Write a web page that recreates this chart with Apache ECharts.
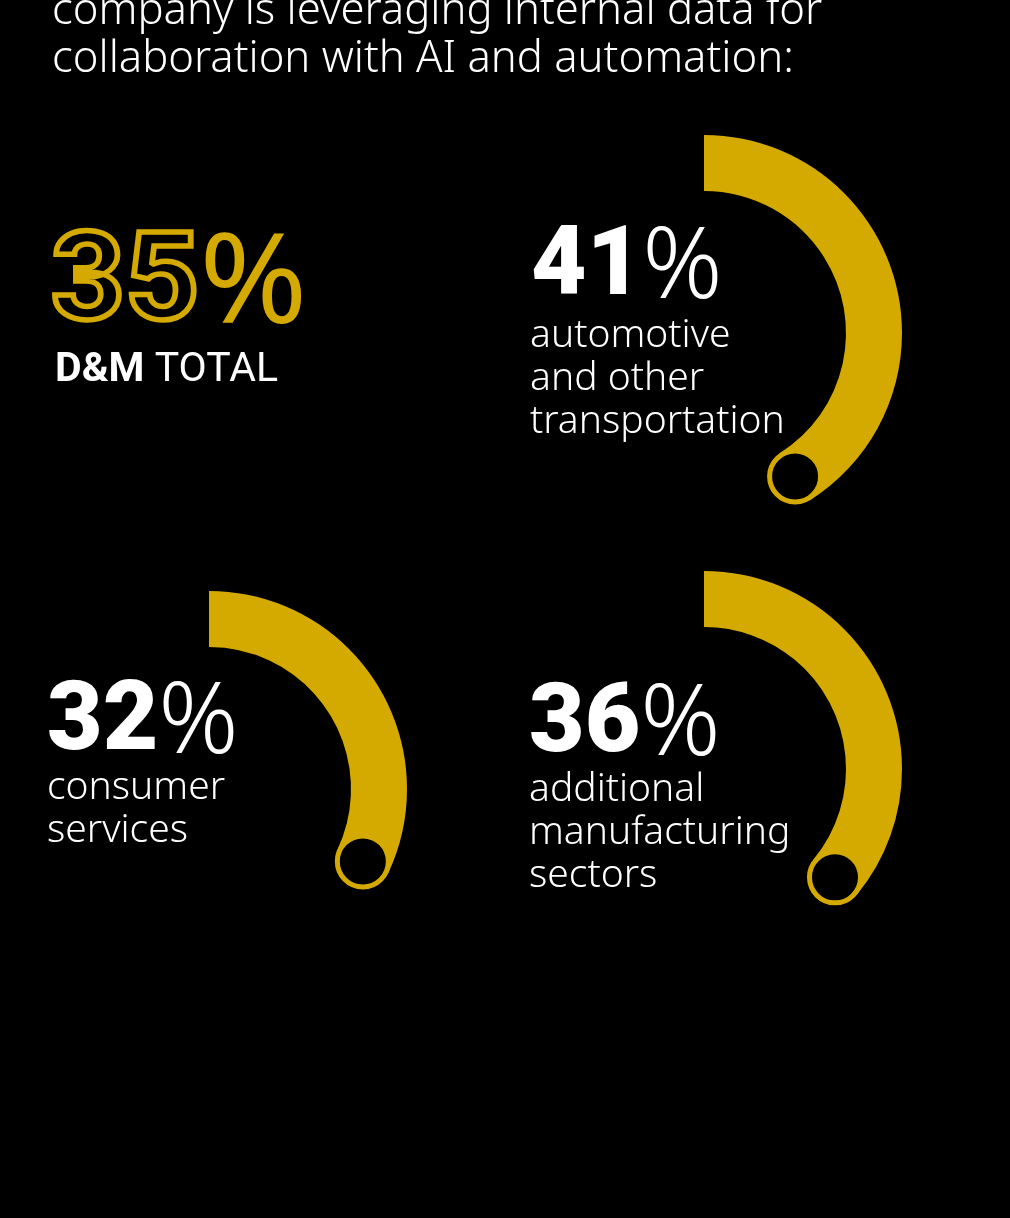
<!DOCTYPE html>
<html>
<head>
<meta charset="utf-8">
<title>AI and automation: internal data collaboration</title>
<script src="https://cdn.jsdelivr.net/npm/echarts@6/dist/echarts.min.js"></script>
<style>
  html, body { margin: 0; padding: 0; background: #000; }
  #chart { width: 1010px; height: 1218px; }
</style>
</head>
<body>
<div id="chart"></div>
<script>
// Share of companies leveraging internal data for collaboration with AI and automation
const headline = ['company is leveraging internal data for', 'collaboration with AI and automation:'];
const totalShare = 35;
const totalLabel = ['D&M', 'TOTAL'];
const segments = [
  ['automotive', 'and other', 'transportation'],
  ['consumer', 'services'],
  ['additional', 'manufacturing', 'sectors']
];
const shares = [41, 32, 36];

const GOLD = '#D5AA00';
const WHITE = '#FFFFFF';
const BODY_FONT = '"Noto Sans", "Open Sans", sans-serif';
const NUM_FONT = 'Roboto, "Noto Sans", sans-serif';
const PCT_FONT = '"Noto Sans", Roboto, sans-serif';

// dial placement: ring centre, number block and description block (px)
const dialLayout = [
  { center: [704, 333], num: [531, 220], desc: [530, 314] },
  { center: [209, 789], num: [47, 675], desc: [47, 766] },
  { center: [704, 769], num: [529, 677], desc: [529, 768] }
];
const RING = [142, 198];

const polar = dialLayout.map(d => ({ center: d.center, radius: RING }));
const angleAxis = dialLayout.map((d, i) => ({
  polarIndex: i, type: 'value', min: 0, max: 100, startAngle: 90, clockwise: true, show: false
}));
const radiusAxis = dialLayout.map((d, i) => ({
  polarIndex: i, type: 'category', data: ['share'], show: false
}));

const series = [];
shares.forEach((v, i) => {
  // the arc itself
  series.push({
    type: 'bar',
    coordinateSystem: 'polar',
    polarIndex: i,
    data: [v],
    barCategoryGap: '0%',
    itemStyle: { color: GOLD, opacity: 1 },
    silent: true,
    z: 2
  });
  // hollow ring closing the arc at its value
  series.push({
    type: 'scatter',
    coordinateSystem: 'polar',
    polarIndex: i,
    data: [[0, v]],
    symbol: 'circle',
    symbolSize: 51,
    itemStyle: { color: '#000', borderColor: GOLD, borderWidth: 5, opacity: 1 },
    silent: true,
    z: 3
  });
});

const graphic = [];
// heading
graphic.push({
  type: 'text', x: 52, y: -12,
  style: {
    text: headline.join('\n'), fill: WHITE, font: '300 43.6px ' + BODY_FONT,
    lineHeight: 48, align: 'left', verticalAlign: 'top'
  }
});
// overall figure, outlined digits
graphic.push({
  type: 'text', x: 51, y: 224, scaleX: 1.05,
  style: {
    text: '{d|' + totalShare + '}{p|%}', align: 'left', verticalAlign: 'top',
    rich: {
      d: { fontSize: 123, fontWeight: 'bold', fontFamily: NUM_FONT, fill: 'rgba(0,0,0,0)', stroke: GOLD, lineWidth: 5.5, lineHeight: 128 },
      p: { fontSize: 124, fontWeight: 'normal', fontFamily: PCT_FONT, fill: GOLD, lineHeight: 128 }
    }
  }
});
graphic.push({
  type: 'text', x: 55, y: 350,
  style: {
    text: '{b|' + totalLabel[0] + ' }{r|' + totalLabel[1] + '}', align: 'left', verticalAlign: 'top',
    rich: {
      b: { fontSize: 41, fontWeight: 'bold', fontFamily: NUM_FONT, fill: WHITE, lineHeight: 42 },
      r: { fontSize: 41, fontWeight: 'normal', fontFamily: NUM_FONT, fill: WHITE, lineHeight: 42 }
    }
  }
});
// per-sector figures
shares.forEach((v, i) => {
  const L = dialLayout[i];
  graphic.push({
    type: 'text', x: L.num[0], y: L.num[1],
    style: {
      text: '{d|' + v + '}{p|%}', align: 'left', verticalAlign: 'top',
      rich: {
        d: { fontSize: 96, fontWeight: 900, fontFamily: NUM_FONT, fill: WHITE, lineHeight: 100 },
        p: { fontSize: 99, fontWeight: 300, fontFamily: PCT_FONT, fill: WHITE, lineHeight: 100 }
      }
    }
  });
  graphic.push({
    type: 'text', x: L.desc[0], y: L.desc[1],
    style: {
      text: segments[i].join('\n'), fill: WHITE, font: '300 39px ' + BODY_FONT,
      lineHeight: 43, align: 'left', verticalAlign: 'top'
    }
  });
});

const chart = echarts.init(document.getElementById('chart'), null, { renderer: 'canvas' });
chart.setOption({
  backgroundColor: '#000',
  animation: false,
  polar, angleAxis, radiusAxis, series, graphic
});
</script>
</body>
</html>
